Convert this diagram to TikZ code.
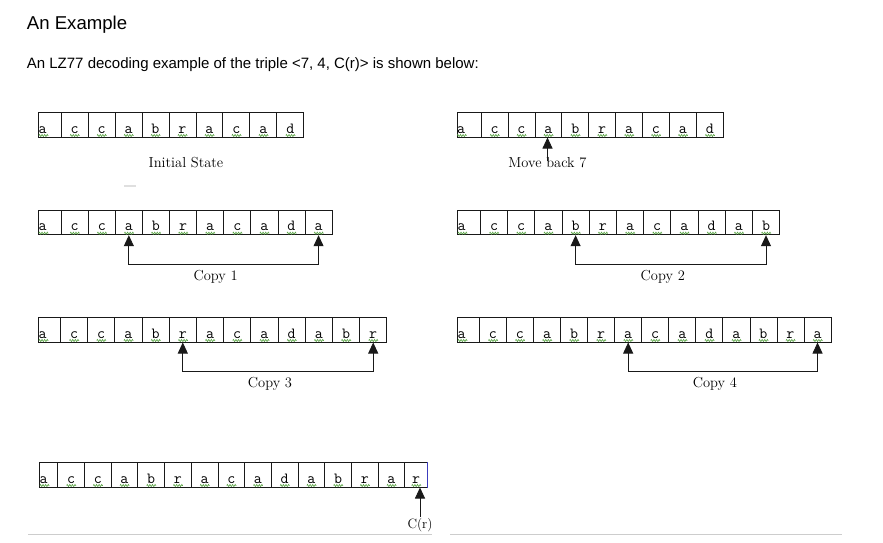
\documentclass[tikz,border=0pt]{standalone}
\usepackage{fontspec}
\usepackage{tikz}
\usetikzlibrary{arrows.meta, positioning, calc, decorations.pathmorphing}
\newfontfamily\headfont{Liberation Sans}
\definecolor{mydark}{RGB}{25,25,25}
\definecolor{squig}{RGB}{90,165,70}
\definecolor{rulegray}{RGB}{205,205,205}
\definecolor{cursorblue}{RGB}{60,60,190}
\tikzset{
  cell/.style={rectangle, draw=mydark, anchor=north west, inner sep=0pt,
    minimum width=26.9pt, minimum height=24.4pt, text height=16.5pt,
    text depth=0pt, font=\fontsize{15.5}{15.5}\ttfamily, line width=0.8pt},
  firstcell/.style={cell, align=left},
  caption/.style={font=\fontsize{14.5}{16}\selectfont, inner sep=1pt},
  ptr/.style={{Triangle[length=11pt,width=10pt]}-{Triangle[length=11pt,width=10pt]},
    line width=0.9pt, color=mydark},
  uptr/.style={-{Triangle[length=11pt,width=10pt]}, line width=0.9pt, color=mydark},
  squiggle/.style={draw=squig, line width=0.6pt, decorate,
    decoration={zigzag, segment length=2.6pt, amplitude=1.1pt}},
  grayrule/.style={draw=rulegray, line width=1pt}
}
% #1 name, #2 left x, #3 top y, #4 first cell width, #5 cell width, #6 letters
\newcommand{\tapeRow}[6]{%
  \foreach \ch [count=\i] in {#6} {
    \ifnum\i=1
      \node[firstcell, minimum width=#4pt, text width=#4pt] (#1-\i) at (#2,#3) {\ch};
      \draw[squiggle] ($(#1-\i.south west)+(0.5,-2)$) -- ++(9.5,0);
    \else
      \node[cell, minimum width=#5pt] (#1-\i) at ({#2+#4+(\i-2)*#5},#3) {\ch};
      \draw[squiggle] ($(#1-\i.south)+(-4.5,-2)$) -- ++(9.5,0);
    \fi
  }
}

\begin{document}
\begin{tikzpicture}[x=1pt, y=-1pt]
  \useasboundingbox (0,0) rectangle (883,543);
  % Heading
  \node[anchor=base west, inner sep=0pt, font=\headfont\fontsize{18.6}{20}\selectfont]
    (title) at (26.7,30) {An Example};
  \node[anchor=base west, inner sep=0pt, font=\headfont\fontsize{15}{17}\selectfont]
    (intro) at (26.7,69) {An LZ77 decoding example of the triple <7, 4, C(r)> is shown below:};
  % Initial state
  \tapeRow{ra}{38.3}{112.3}{22.4}{26.96}{a,c,c,a,b,r,a,c,a,d}
  \node[caption] (init) at (186,163) {Initial State};
  \draw[line width=1.5pt, gray!25] (124,186) -- (136,186);
  % Move back 7
  \tapeRow{rb}{456.7}{112.3}{24}{26.9}{a,c,c,a,b,r,a,c,a,d}
  \node[caption] (move) at (547.5,163) {Move back 7};
  \draw[uptr, shorten <=2pt] (move.center) -- (move |- rb-4.south);
  % Copy 1
  \tapeRow{rc}{38.3}{210}{22.4}{27.1}{a,c,c,a,b,r,a,c,a,d,a}
  \draw[ptr] (rc-4.south) -- ++(0,29) -| (rc-11.south);
  \node[caption] (copy1) at ($(rc-4.south)!0.5!(rc-11.south)+(-8,41.5)$) {Copy 1};
  % Copy 2
  \tapeRow{rd}{457.3}{210}{22.7}{27.2}{a,c,c,a,b,r,a,c,a,d,a,b}
  \draw[ptr] (rd-5.south) -- ++(0,29) -| (rd-12.south);
  \node[caption] (copy2) at ($(rd-5.south)!0.5!(rd-12.south)+(-8,41.5)$) {Copy 2};
  % Copy 3
  \tapeRow{re}{38.3}{317.3}{21.7}{27.2}{a,c,c,a,b,r,a,c,a,d,a,b,r}
  \draw[ptr] (re-6.south) -- ++(0,29) -| (re-13.south);
  \node[caption] (copy3) at ($(re-6.south)!0.5!(re-13.south)+(-8,41.5)$) {Copy 3};
  % Copy 4
  \tapeRow{rf}{457.3}{317.3}{21.7}{27.05}{a,c,c,a,b,r,a,c,a,d,a,b,r,a}
  \draw[ptr] (rf-7.south) -- ++(0,29) -| (rf-14.south);
  \node[caption] (copy4) at ($(rf-7.south)!0.5!(rf-14.south)+(-8,41.5)$) {Copy 4};
  % Final string with C(r)
  \tapeRow{rg}{39.3}{462.3}{18}{26.7}{a,c,c,a,b,r,a,c,a,d,a,b,r,a}
  \node[cell, minimum width=22.7pt] (rg-15) at (404.4,462.3) {r};
  \draw[squiggle] ($(rg-15.south)+(-4.5,-2)$) -- ++(9.5,0);
  \draw[cursorblue, line width=1pt] (rg-15.north east) -- (rg-15.south east);
  \node[caption, font=\fontsize{13.5}{15}\selectfont] (cr) at (420,525) {C(r)};
  \draw[uptr] (cr.north) -- (cr |- rg-15.south);
  % Bottom rules
  \draw[grayrule] (28,534.5) -- (432,534.5);
  \draw[grayrule] (450,534.5) -- (842,534.5);
\end{tikzpicture}
\end{document}
